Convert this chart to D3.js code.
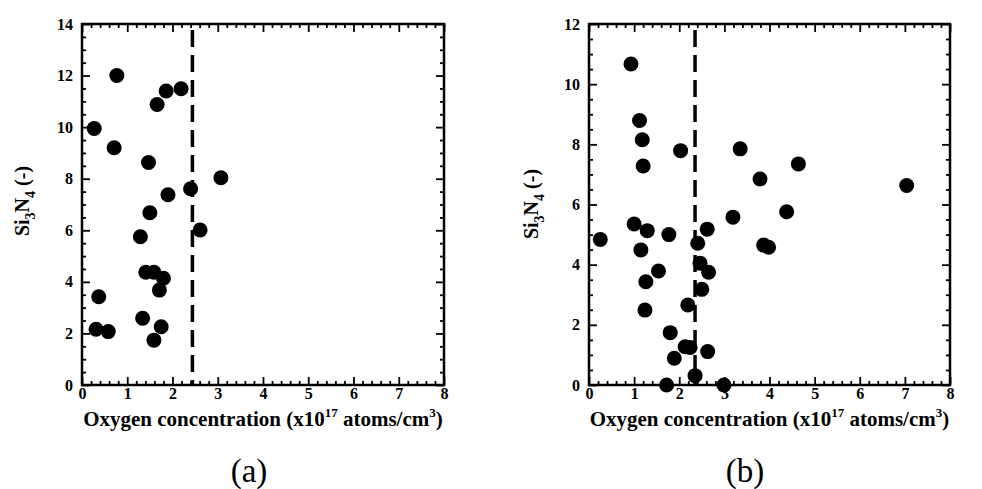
<!DOCTYPE html>
<html>
<head>
<meta charset="utf-8">
<script src="https://cdn.jsdelivr.net/npm/d3@7"></script>
<style>
  html, body { margin: 0; padding: 0; background: #fff; overflow: hidden; }
</style>
</head>
<body>
<div id="wrap"></div>
<script>
// Panel (a): oxygen concentration vs Si3N4
const oxygenA = [0.77, 0.27, 0.71, 1.66, 1.86, 2.19, 1.47, 1.90, 1.50, 2.40, 3.07, 2.61, 1.29,
                 1.41, 1.59, 1.80, 1.71, 0.37, 0.31, 0.58, 1.34, 1.75, 1.59];
const si3n4A  = [12.0, 9.95, 9.2, 10.88, 11.4, 11.49, 8.63, 7.38, 6.68, 7.61, 8.04, 6.01, 5.75,
                 4.37, 4.37, 4.14, 3.68, 3.42, 2.16, 2.07, 2.59, 2.26, 1.74];

// Panel (b)
const oxygenB = [0.93, 1.12, 1.18, 1.20, 2.03, 3.35, 3.79, 0.25, 1.00, 1.29, 1.77, 2.62, 3.19,
                 2.41, 1.15, 2.46, 2.65, 1.54, 1.26, 2.50, 1.24, 2.19, 1.80, 2.13, 2.24, 2.63,
                 1.89, 2.35, 1.72, 2.99, 4.64, 7.04, 4.38, 3.87, 3.98];
const si3n4B  = [10.67, 8.79, 8.15, 7.28, 7.79, 7.85, 6.85, 4.84, 5.35, 5.13, 5.00, 5.18, 5.58,
                 4.71, 4.49, 4.05, 3.75, 3.79, 3.43, 3.18, 2.49, 2.66, 1.74, 1.27, 1.25, 1.11,
                 0.89, 0.31, 0.00, 0.00, 7.35, 6.63, 5.76, 4.65, 4.58];

// Threshold oxygen concentration (dashed line) and axis settings
const thresholdA = 2.44;
const thresholdB = 2.35;
const xTicks = [0, 1, 2, 3, 4, 5, 6, 7, 8];
const yTicksA = [0, 2, 4, 6, 8, 10, 12, 14];
const yTicksB = [0, 2, 4, 6, 8, 10, 12];
const xLabel = ["Oxygen concentration (x10", "17", " atoms/cm", "3", ")"];
const panelNames = ["(a)", "(b)"];

const SERIF = "Liberation Serif";
const svg = d3.select("#wrap").append("svg").attr("width", 982).attr("height", 489);

function drawPanel(opts) {
  const { left, top, right, bottom, xs, ys, yMax, yTicks, threshold, name, yLabelX, yLabelY, nameX } = opts;
  const x = d3.scaleLinear().domain([0, 8]).range([left, right]);
  const y = d3.scaleLinear().domain([0, yMax]).range([bottom, top]);
  const g = svg.append("g");

  const xMinor = d3.range(0, 8.0001, 0.2).filter(v => Math.abs(v - Math.round(v)) > 1e-6);
  const yMinor = d3.range(0, yMax + 0.0001, 0.5).filter(v => Math.abs(v / 2 - Math.round(v / 2)) > 1e-6);

  const styleAxis = sel => {
    sel.attr("font-family", SERIF).attr("font-size", 16).attr("font-weight", "bold");
    sel.select(".domain").remove();
    sel.selectAll("line").attr("stroke", "#000").attr("stroke-width", 1.8);
    sel.selectAll("text").attr("fill", "#000");
  };

  // minor ticks on all four sides
  g.append("g").attr("transform", `translate(0,${bottom})`)
    .call(d3.axisBottom(x).tickValues(xMinor).tickSize(-4).tickFormat("")).call(styleAxis);
  g.append("g").attr("transform", `translate(0,${top})`)
    .call(d3.axisTop(x).tickValues(xMinor).tickSize(-4).tickFormat("")).call(styleAxis);
  g.append("g").attr("transform", `translate(${left},0)`)
    .call(d3.axisLeft(y).tickValues(yMinor).tickSize(-4).tickFormat("")).call(styleAxis);
  g.append("g").attr("transform", `translate(${right},0)`)
    .call(d3.axisRight(y).tickValues(yMinor).tickSize(-4).tickFormat("")).call(styleAxis);

  // major ticks with labels
  g.append("g").attr("transform", `translate(0,${bottom})`)
    .call(d3.axisBottom(x).tickValues(xTicks).tickSize(-8).tickPadding(3).tickFormat(d3.format("d")))
    .call(styleAxis);
  g.append("g").attr("transform", `translate(0,${top})`)
    .call(d3.axisTop(x).tickValues(xTicks).tickSize(-8).tickFormat("")).call(styleAxis);
  g.append("g").attr("transform", `translate(${left},0)`)
    .call(d3.axisLeft(y).tickValues(yTicks).tickSize(-8).tickPadding(9).tickFormat(d3.format("d")))
    .call(styleAxis);
  g.append("g").attr("transform", `translate(${right},0)`)
    .call(d3.axisRight(y).tickValues(yTicks).tickSize(-8).tickFormat("")).call(styleAxis);

  // frame
  g.append("rect").attr("x", left).attr("y", top)
    .attr("width", right - left).attr("height", bottom - top)
    .attr("fill", "none").attr("stroke", "#000").attr("stroke-width", 2.5);

  // threshold line
  g.append("line")
    .attr("x1", x(threshold)).attr("x2", x(threshold))
    .attr("y1", top + 6).attr("y2", bottom)
    .attr("stroke", "#000").attr("stroke-width", 3.5)
    .attr("stroke-dasharray", "17,8");

  // data points
  g.append("g").selectAll("circle")
    .data(xs.map((v, i) => [v, ys[i]]))
    .join("circle")
    .attr("cx", d => x(d[0])).attr("cy", d => y(d[1]))
    .attr("r", 7.5).attr("fill", "#000");

  // x axis title
  const xt = g.append("text")
    .attr("x", (left + right) / 2).attr("y", 426)
    .attr("text-anchor", "middle")
    .attr("font-family", SERIF).attr("font-size", 21).attr("font-weight", "bold");
  xLabel.forEach((s, i) => {
    const t = xt.append("tspan").text(s);
    if (i === 1 || i === 3) t.attr("font-size", 13).attr("dy", -9);
    else if (i === 2 || i === 4) t.attr("dy", 9);
  });

  // y axis title
  const ytl = g.append("text")
    .attr("transform", `translate(${yLabelX},${yLabelY}) rotate(-90)`)
    .attr("text-anchor", "middle")
    .attr("font-family", SERIF).attr("font-size", 20).attr("font-weight", "bold");
  ytl.append("tspan").text("Si");
  ytl.append("tspan").text("3").attr("font-size", 14).attr("dy", 6);
  ytl.append("tspan").text("N").attr("dy", -6);
  ytl.append("tspan").text("4").attr("font-size", 14).attr("dy", 6);
  ytl.append("tspan").text(" (-)").attr("dy", -6);

  // panel name
  g.append("text").attr("x", nameX).attr("y", 482)
    .attr("text-anchor", "middle")
    .attr("font-family", SERIF).attr("font-size", 33).text(name);
}

drawPanel({ left: 82, top: 24, right: 444, bottom: 385, xs: oxygenA, ys: si3n4A, yMax: 14,
  yTicks: yTicksA, threshold: thresholdA, name: panelNames[0], yLabelX: 29, yLabelY: 201, nameX: 249 });
drawPanel({ left: 589, top: 24, right: 950, bottom: 385, xs: oxygenB, ys: si3n4B, yMax: 12,
  yTicks: yTicksB, threshold: thresholdB, name: panelNames[1], yLabelX: 538, yLabelY: 204, nameX: 745 });
</script>
</body>
</html>
